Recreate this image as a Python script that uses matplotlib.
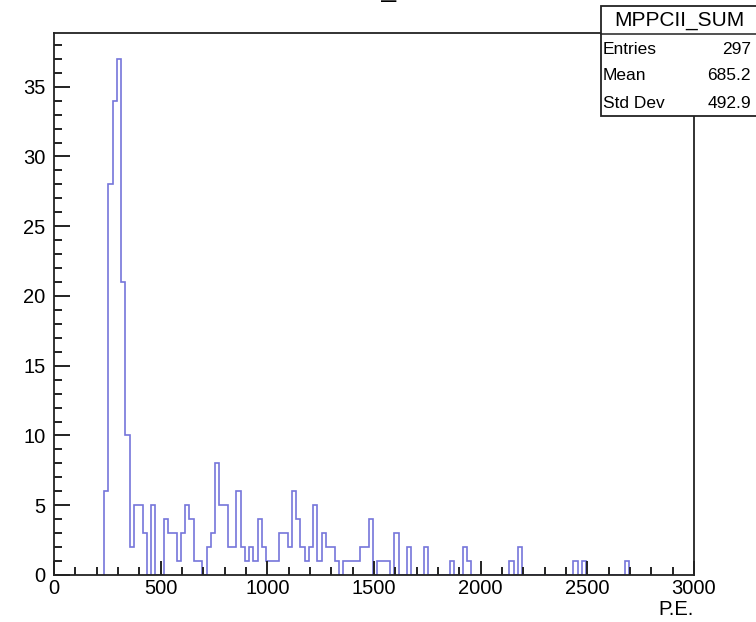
import numpy as np
import matplotlib
matplotlib.use("Agg")
import matplotlib.pyplot as plt
from matplotlib.ticker import MultipleLocator
from matplotlib.patches import Rectangle
from matplotlib.lines import Line2D

plt.rcParams['font.family'] = ['Liberation Sans', 'DejaVu Sans']

# Histogram of summed photo-electrons: 20 P.E. bins, first filled bin starts at 235
hist_name = "MPPCII_SUM"
bin_width = 20
first_edge = 235
counts = [
    6, 28, 34, 37, 21, 10, 2, 5, 5, 3,          # 235 - 435
    0, 5, 0, 0, 4, 3, 3, 1, 3, 5,               # 435 - 635
    4, 1, 1, 0, 2, 3, 8, 5, 5, 2,               # 635 - 835
    2, 6, 2, 1, 2, 1, 4, 2, 1, 1,               # 835 - 1035
    1, 3, 3, 2, 6, 4, 2, 1, 2, 5,               # 1035 - 1235
    1, 3, 2, 2, 1, 0, 1, 1, 1, 1,               # 1235 - 1435
    2, 2, 4, 0, 1, 1, 1, 0, 3, 0,               # 1435 - 1635
    0, 2, 0, 0, 0, 2, 0, 0, 0, 0,               # 1635 - 1835
    0, 1, 0, 0, 2, 1, 0, 0, 0, 0,               # 1835 - 2035
    0, 0, 0, 0, 0, 1, 0, 2, 0, 0,               # 2035 - 2235
    0, 0, 0, 0, 0, 0, 0, 0, 0, 0,               # 2235 - 2435
    1, 0, 1, 0, 0, 0, 0, 0, 0, 0,               # 2435 - 2635
    0, 0, 1,                                    # 2635 - 2695
]
stat_labels = ["Entries", "Mean", "Std Dev"]
stat_values = ["297", "685.2", "492.9"]
x_label = "P.E."
x_range = (0, 3000)

edges = first_edge + bin_width * np.arange(len(counts) + 1)

W, H = 756, 622
fig = plt.figure(figsize=(W / 100, H / 100), dpi=100)
ax = fig.add_axes([54 / W, 1 - 575 / H, (694 - 54) / W, (575 - 33) / H])

ax.stairs(counts, edges, baseline=0, fill=False, color="#7676da", linewidth=1.2)

ax.set_xlim(*x_range)
ax.set_ylim(0, max(counts) * 1.05)

ax.xaxis.set_major_locator(MultipleLocator(500))
ax.xaxis.set_minor_locator(MultipleLocator(100))
ax.yaxis.set_major_locator(MultipleLocator(5))
ax.yaxis.set_minor_locator(MultipleLocator(1))

for s in ax.spines.values():
    s.set_linewidth(1.3)
    s.set_color("#222222")

ax.tick_params(axis="x", which="major", direction="in", length=10, width=1.4,
               color="#222222", labelsize=14.5, pad=3)
ax.tick_params(axis="x", which="minor", direction="in", length=5.5, width=1.4,
               color="#222222")
ax.tick_params(axis="y", which="major", direction="in", length=11.5, width=1.4,
               color="#222222", labelsize=14.5, pad=6)
ax.tick_params(axis="y", which="minor", direction="in", length=6, width=1.4,
               color="#222222")
ax.tick_params(top=False, right=False)

ax.set_xlabel(x_label, fontsize=14.5, loc="right", labelpad=1)

# Title (sits at the very top edge of the canvas)
fig.text(374 / W, 1 + 3 / H, hist_name, ha="center", va="baseline", fontsize=19)

# Statistics box
bx0, by0, bx1, by1 = 601, 6, 760, 116
hdr = 34
fig.patches.append(Rectangle((bx0 / W, 1 - by1 / H), (bx1 - bx0) / W, (by1 - by0) / H,
                             transform=fig.transFigure, facecolor="white",
                             edgecolor="#222222", linewidth=1.3, zorder=5))
fig.lines.append(Line2D([bx0 / W, bx1 / W], [1 - hdr / H, 1 - hdr / H],
                        transform=fig.transFigure, color="#222222", linewidth=1.1, zorder=6))
fig.text(679 / W, 1 - 21 / H, hist_name, ha="center", va="center",
         fontsize=15, zorder=7)
row_y = [49, 76, 103]
for lab, val, yy in zip(stat_labels, stat_values, row_y):
    fig.text(603 / W, 1 - yy / H, lab, ha="left", va="center", fontsize=12.5, zorder=7)
    fig.text(751 / W, 1 - yy / H, val, ha="right", va="center", fontsize=12.5, zorder=7)

fig.savefig("out.png", dpi=100)
